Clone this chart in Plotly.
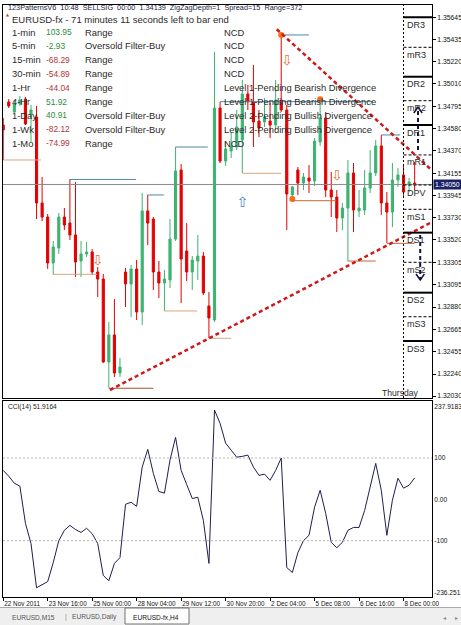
import plotly.graph_objects as go

# ---------------- data ----------------
BARS = list(range(75))
OPEN = [
    1.34618, 1.34838, 1.34742, 1.34819, 1.34866, 1.34714, 1.34694, 1.33873, 1.33739, 1.33300,
    1.33443, 1.33739, 1.33682, 1.33568, 1.33319, 1.33386, 1.33405, 1.33214, 1.33147, 1.32355,
    1.32613, 1.32250, 1.33214, 1.33100, 1.33243, 1.32832, 1.33797, 1.33720, 1.33214, 1.33109,
    1.33138, 1.33529, 1.34188, 1.33415, 1.33214, 1.33319, 1.33367, 1.32890, 1.32756, 1.34780,
    1.34274, 1.34370, 1.34408, 1.34475, 1.34914, 1.34838, 1.34656, 1.34647, 1.34656, 1.34618,
    1.34857, 1.34761, 1.33950, 1.34188, 1.34064, 1.34112, 1.34083, 1.34456, 1.34685, 1.33997,
    1.33930, 1.33730, 1.33825, 1.34160, 1.33797, 1.33806, 1.34016, 1.34160, 1.34418, 1.33873,
    1.33787, 1.34093, 1.34141, 1.34045, 1.34064]
HIGH = [
    1.34685, 1.34866, 1.34857, 1.34895, 1.34885, 1.34809, 1.34800, 1.34121, 1.33768, 1.33510,
    1.33778, 1.33825, 1.34102, 1.34074, 1.33510, 1.33501, 1.33434, 1.33262, 1.33195, 1.32737,
    1.32956, 1.32393, 1.33252, 1.33281, 1.33329, 1.33969, 1.33950, 1.33739, 1.33319, 1.33233,
    1.33720, 1.34408, 1.34246, 1.33682, 1.33367, 1.33568, 1.33405, 1.33023, 1.35315, 1.34838,
    1.34465, 1.34542, 1.34761, 1.35048, 1.35000, 1.35191, 1.34761, 1.34876, 1.34828, 1.35048,
    1.35478, 1.34809, 1.34036, 1.34217, 1.34160, 1.34236, 1.34494, 1.34866, 1.34742, 1.34169,
    1.33997, 1.33873, 1.34284, 1.34255, 1.33997, 1.34188, 1.34379, 1.34475, 1.34523, 1.33978,
    1.34255, 1.34207, 1.34236, 1.34112, 1.34265]
LOW = [
    1.34284, 1.34780, 1.34723, 1.34800, 1.34618, 1.34456, 1.33720, 1.33701, 1.33243, 1.33186,
    1.33386, 1.33615, 1.33520, 1.33166, 1.33166, 1.33357, 1.33186, 1.32975, 1.32345, 1.32106,
    1.32211, 1.32211, 1.32880, 1.32784, 1.32756, 1.32708, 1.33472, 1.33042, 1.32966, 1.32842,
    1.33061, 1.33510, 1.32918, 1.33128, 1.33042, 1.33138, 1.32995, 1.32584, 1.32737, 1.34255,
    1.34227, 1.34303, 1.34379, 1.34160, 1.34761, 1.34408, 1.34503, 1.34599, 1.34494, 1.34570,
    1.34742, 1.33615, 1.33911, 1.33950, 1.33997, 1.33969, 1.34036, 1.34418, 1.33930, 1.33739,
    1.33596, 1.33615, 1.33319, 1.33596, 1.33739, 1.33759, 1.33969, 1.34131, 1.33759, 1.33491,
    1.33644, 1.34026, 1.33921, 1.33978, 1.33997]
CLOSE = [
    1.34570, 1.34800, 1.34819, 1.34857, 1.34628, 1.34761, 1.33873, 1.33739, 1.33300, 1.33453,
    1.33739, 1.33663, 1.33568, 1.33310, 1.33386, 1.33405, 1.33214, 1.33147, 1.32355, 1.32613,
    1.32250, 1.32307, 1.33100, 1.33243, 1.32832, 1.33797, 1.33682, 1.33214, 1.33109, 1.33147,
    1.33529, 1.34179, 1.33338, 1.33214, 1.33329, 1.33367, 1.33014, 1.32775, 1.34780, 1.34274,
    1.34389, 1.34418, 1.34599, 1.34914, 1.34838, 1.34647, 1.34589, 1.34694, 1.34618, 1.34857,
    1.34761, 1.33959, 1.34026, 1.34064, 1.34121, 1.34083, 1.34465, 1.34685, 1.33997, 1.33930,
    1.33730, 1.33825, 1.34160, 1.33806, 1.33825, 1.34016, 1.34160, 1.34418, 1.33873, 1.33787,
    1.34093, 1.34141, 1.33978, 1.34074, 1.34050]
CCI = [
    70, 56, 39, 32, -58, -107, -214, -206, -199, -153,
    -100, -75, -63, -73, -80, -70, -83, -107, -184, -197,
    -155, -141, -12, -7, -17, 78, 121, 63, 19, 15,
    95, 150, 70, 36, 2, 5, -51, -155, 216, 184,
    136, 119, 102, 104, 107, 78, 58, 61, 46, 70,
    100, -165, -177, -129, -100, -87, -19, 22, -34, -104,
    -117, -104, -75, -68, -68, -27, 27, 87, 22, -87,
    -2, 51, 27, 34, 51.9164]

X_TICK_BARS = [0, 8, 16, 24, 32, 40, 48, 56, 64, 72]
X_TICK_LABELS = ["22 Nov 2011", "23 Nov 16:00", "25 Nov 00:00", "28 Nov 04:00", "29 Nov 12:00",
                 "30 Nov 20:00", "2 Dec 04:00", "5 Dec 08:00", "6 Dec 16:00", "8 Dec 00:00"]
PRICE_TICKS = [1.35645, 1.35435, 1.35220, 1.35010, 1.34795, 1.34580, 1.34370, 1.34155, 1.33945,
               1.33730, 1.33520, 1.33305, 1.33095, 1.32880, 1.32665, 1.32455, 1.32240, 1.32030]
BID = 1.34050
CCI_MAX, CCI_MIN = 237.9183, -236.251
CCI_LEVELS = [100, -100]
CCI_TICK_LABELS = ["237.9183", "100", "0.00", "-100", "-236.251"]

PIVOT_NAMES = ["DR3", "mR3", "DR2", "mR2", "DR1", "mR1", "DPV", "mS1", "DS1", "mS2", "DS2", "mS3", "DS3"]
PIVOT_LEVELS = [1.35647, 1.35360, 1.35079, 1.34850, 1.34618, 1.34332, 1.34045, 1.33813, 1.33590,
                1.33307, 1.33017, 1.32787, 1.32555]
PIVOT_START_BAR = 72  # Thursday 8 Dec 00:00

SWING_START = [0, 12, 9, 19, 26, 29, 37, 31, 43, 39, 50, 52, 62, 68, 69]
SWING_END = [6.8, 23.9, 16.9, 27, 28.9, 34.9, 41, 36.8, 50, 66.5, 55, 59.9, 67, 71.4, 74]
SWING_PRICE = [1.34284, 1.34098, 1.33192, 1.32104, 1.33950, 1.32842, 1.32581, 1.34408, 1.34157,
               1.34841, 1.35478, 1.33895, 1.33319, 1.34523, 1.33488]
SWING_KIND = ["lo", "hi", "lo", "lo2", "hi", "lo", "lo", "hi", "lo", "hi", "hi", "lo3", "lo3", "hi", "lo3"]

TREND_DOWN = [(49.2, 1.35532), (77.12, 1.34185)]
TREND_UP = [(19.2, 1.32087), (77.12, 1.33692)]

ZZ_BARS = [50, 52, 57]
ZZ_PRICES = [1.35478, 1.33911, 1.34863]
SELL_BARS = [17, 51, 60]
SELL_PRICES = [1.33310, 1.35229, 1.34131]
BUY_BARS = [43]
BUY_PRICES = [1.33864]

ARROW_UP = (74.6, 1.34379, 1.34790)
ARROW_DOWN = (75.0, 1.33568, 1.33138)

HEADER = "123PatternsV6  10:48  SELLSIG  00:00  1.34139  ZigZagDepth=1  Spread=15  Range=372"
TITLE = "EURUSD-fx - 71 minutes 11 seconds left to bar end"
TF_LABELS = ["1-min", "5-min", "15-min", "30-min", "1-Hr", "4-Hr", "1-Day", "1-Wk", "1-Mo"]
TF_VALUES = [103.95, -2.93, -68.29, -54.89, -44.04, 51.92, 40.91, -82.12, -74.99]
TF_RISING = [True, True, False, False, False, True, True, False, False]
TF_STATUS = ["Range", "Oversold Filter-Buy", "Range", "Range", "Range", "Range",
             "Oversold Filter-Buy", "Oversold Filter-Buy", "Range"]
TF_DIV = ["NCD", "NCD", "NCD", "NCD", "Level 1-Pending Bearish Divergence",
          "Level 1-Pending Bearish Divergence", "Level 2-Pending Bullish Divergence",
          "Level 2-Pending Bullish Divergence", "NCD"]
CCI_TITLE = "CCI(14) 51.9164"
DAY_LABEL = "Thursday"
TABS = ["EURUSD,M15", "EURUSD,Daily", "EURUSD-fx,H4"]

# ---------------- layout geometry ----------------
W, H = 461, 625
L, R, T, B = 3, 432, 5, 597
XMIN, XMAX = -0.036, 77.12
PMIN, PMAX = 1.32011, 1.35764
MAIN_BOTTOM_PX, CCI_TOP_PX = 398, 401
PPX = (PMAX - PMIN) / (MAIN_BOTTOM_PX - T)   # price per pixel


def PX(x):
    return (x - L) / (R - L)


def PY(y):
    return (B - y) / (B - T)


GREEN, RED = "#3CB371", "#E30000"
FONT = "Liberation Sans"
TXT = "#2a2a2a"

fig = go.Figure()

fig.add_trace(go.Candlestick(
    x=BARS, open=OPEN, high=HIGH, low=LOW, close=CLOSE,
    increasing=dict(line=dict(color=GREEN, width=1), fillcolor=GREEN),
    decreasing=dict(line=dict(color=RED, width=1), fillcolor=RED),
    whiskerwidth=0, xaxis="x", yaxis="y", showlegend=False, hoverinfo="skip"))

fig.add_trace(go.Scatter(x=BARS, y=CCI, mode="lines", line=dict(color="#1e1e4e", width=1),
                         xaxis="x2", yaxis="y2", showlegend=False, hoverinfo="skip"))

# zigzag dots, signal arrows
fig.add_trace(go.Scatter(x=ZZ_BARS, y=ZZ_PRICES, mode="markers",
                         marker=dict(color="#FF6A10", size=6), xaxis="x", yaxis="y",
                         showlegend=False, hoverinfo="skip"))
fig.add_trace(go.Scatter(x=SELL_BARS, y=SELL_PRICES, mode="text", text=["⇩"] * len(SELL_BARS),
                         textfont=dict(family="DejaVu Sans", size=14, color="#E0783A"),
                         xaxis="x", yaxis="y", showlegend=False, hoverinfo="skip"))
fig.add_trace(go.Scatter(x=BUY_BARS, y=BUY_PRICES, mode="text", text=["⇧"] * len(BUY_BARS),
                         textfont=dict(family="DejaVu Sans", size=14, color="#3C82D8"),
                         xaxis="x", yaxis="y", showlegend=False, hoverinfo="skip"))

shapes = []
# bid line
shapes.append(dict(type="line", xref="x domain", yref="y", x0=0, x1=1, y0=BID, y1=BID,
                   line=dict(color="#8a8a8a", width=1)))
# swing level lines
kind_col = {"hi": "#4f86a8", "lo": "#dba47c", "lo2": "#a0552d", "lo3": "#bf6a3a"}
for s, e, p, k in zip(SWING_START, SWING_END, SWING_PRICE, SWING_KIND):
    shapes.append(dict(type="line", xref="x", yref="y", x0=s, x1=e, y0=p, y1=p,
                       line=dict(color=kind_col[k], width=1)))
# trend lines
for (x0, y0), (x1, y1) in (TREND_DOWN, TREND_UP):
    shapes.append(dict(type="line", xref="x", yref="y", x0=x0, y0=y0, x1=x1, y1=y1,
                       line=dict(color="#d01818", width=2.5, dash="4px,3px")))
# pivot area
shapes.append(dict(type="line", xref="x", yref="y domain", x0=PIVOT_START_BAR, x1=PIVOT_START_BAR,
                   y0=0, y1=1, line=dict(color="#000", width=1, dash="2px,2px")))
for name, lev in zip(PIVOT_NAMES, PIVOT_LEVELS):
    solid = name.startswith("D") and name != "DPV"
    shapes.append(dict(type="line", xref="x", yref="y", x0=PIVOT_START_BAR, x1=XMAX, y0=lev, y1=lev,
                       line=dict(color="#000", width=2 if solid else 1,
                                 dash="solid" if solid else "3px,2px")))
# navy dashed direction arrows
for (bx, p0, p1) in (ARROW_UP, ARROW_DOWN):
    shapes.append(dict(type="line", xref="x", yref="y", x0=bx, x1=bx, y0=p0, y1=p1,
                       line=dict(color="#10104a", width=2, dash="4px,3px")))
    d = 1 if p1 > p0 else -1
    head = 6 * PPX * d
    shapes.append(dict(type="path", xref="x", yref="y",
                       path=f"M {bx-0.75},{p1-head} L {bx},{p1} L {bx+0.75},{p1-head}",
                       line=dict(color="#10104a", width=1.5)))
# CCI levels
for lv in CCI_LEVELS:
    shapes.append(dict(type="line", xref="x2 domain", yref="y2", x0=0, x1=1, y0=lv, y1=lv,
                       line=dict(color="#b4b4b4", width=1, dash="2px,2px")))
# tab strip
shapes.append(dict(type="rect", xref="paper", yref="paper", x0=PX(0), x1=PX(W), y0=PY(607), y1=PY(H),
                   fillcolor="#efefef", line=dict(width=0), layer="below"))
shapes.append(dict(type="line", xref="paper", yref="paper", x0=PX(0), x1=PX(W), y0=PY(607.5), y1=PY(607.5),
                   line=dict(color="#a8a8a8", width=1)))
shapes.append(dict(type="rect", xref="paper", yref="paper", x0=PX(125), x1=PX(189), y0=PY(608), y1=PY(624),
                   fillcolor="#ffffff", line=dict(color="#707070", width=1)))

ann = []


def txt(x, y, s, size=9.2, color=TXT, anchor="left", family=FONT, **kw):
    ann.append(dict(xref="paper", yref="paper", x=PX(x), y=PY(y), text=s, showarrow=False,
                    xanchor=anchor, yanchor="middle", font=dict(family=family, size=size, color=color), **kw))


txt(6, 8, HEADER, size=7.3, color="#1a1a3a")
txt(3.5, 14.5, "▲", size=4, color="#d83a10", family="DejaVu Sans")
txt(10, 19.5, TITLE, size=9.5)
for i in range(len(TF_LABELS)):
    y = 32 + i * 13.9
    txt(10, y, TF_LABELS[i], size=9.4)
    txt(44, y, f"{TF_VALUES[i]:.2f}", size=8.4, color="#2f8a3c" if TF_RISING[i] else "#b23636")
    txt(83, y, TF_STATUS[i], size=9.4)
    txt(222, y, TF_DIV[i], size=9.4)

for name, lev in zip(PIVOT_NAMES, PIVOT_LEVELS):
    ann.append(dict(xref="x", yref="y", x=PIVOT_START_BAR + 0.3, y=lev, text=name, showarrow=False,
                    xanchor="left", yanchor="top", yshift=-0.5,
                    font=dict(family=FONT, size=9, color=TXT)))
txt(421, 393, DAY_LABEL, size=8.6, anchor="right")
txt(6, 407, CCI_TITLE, size=6.6, color="#222")

# bid price label
ann.append(dict(xref="paper", yref="y", x=1, y=BID, text=f"{BID:.5f}", showarrow=False,
                xanchor="left", yanchor="middle", xshift=1, bgcolor="#1a2266", borderpad=1,
                font=dict(family=FONT, size=6.8, color="#ffffff")))

# tabs
txt(10, 617, TABS[0], size=6.6, color="#555")
txt(63, 617, "|", size=7, color="#888")
txt(70, 617, TABS[1], size=6.6, color="#555")
txt(131, 617, TABS[2], size=6.6, color="#111")
txt(441, 617, "◂", size=6, color="#888", family="DejaVu Sans")
txt(453, 617, "▸", size=6, color="#888", family="DejaVu Sans")

axis_common = dict(showgrid=False, zeroline=False, showline=True, mirror=True,
                   linecolor="#000", linewidth=1, automargin=False, fixedrange=True)

y_main0 = PY(MAIN_BOTTOM_PX)
y_cci1 = PY(CCI_TOP_PX)

fig.update_layout(
    width=W, height=H, template="none",
    margin=dict(l=L, r=W - R, t=T, b=H - B, pad=0, autoexpand=False),
    paper_bgcolor="#ffffff", plot_bgcolor="#ffffff", showlegend=False,
    boxgap=0.45,
    font=dict(family=FONT, size=7, color="#111"),
    xaxis=dict(domain=[0, 1], anchor="y", range=[XMIN, XMAX], showticklabels=False, ticks="",
               rangeslider=dict(visible=False), **axis_common),
    yaxis=dict(domain=[y_main0, 1], anchor="x", side="right", range=[PMIN, PMAX],
               tickvals=PRICE_TICKS, ticktext=[f"{v:.5f}" for v in PRICE_TICKS],
               ticks="outside", ticklen=3, tickcolor="#000",
               tickfont=dict(family=FONT, size=6.8, color="#111"), **axis_common),
    xaxis2=dict(domain=[0, 1], anchor="y2", range=[XMIN, XMAX],
                tickvals=X_TICK_BARS, ticktext=X_TICK_LABELS, ticklabelposition="outside right",
                tickangle=0, ticks="outside", ticklen=3, tickcolor="#000",
                tickfont=dict(family=FONT, size=6.4, color="#111"), **axis_common),
    yaxis2=dict(domain=[0, y_cci1], anchor="x2", side="right", range=[CCI_MIN, CCI_MAX],
                tickvals=[CCI_MAX - 13, 100, 0, -100, CCI_MIN + 10], ticktext=CCI_TICK_LABELS,
                ticks="", tickfont=dict(family=FONT, size=6.6, color="#111"), **axis_common),
    shapes=shapes, annotations=ann,
)

fig.write_html("out.html")
